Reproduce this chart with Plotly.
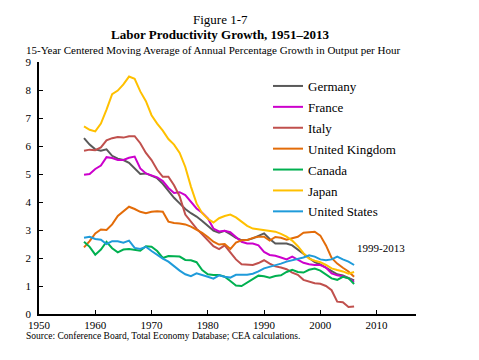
import plotly.graph_objects as go

years = list(range(1958, 2007))

germany = [6.28, 6.05, 5.88, 5.83, 5.88, 5.65, 5.55, 5.50, 5.40, 5.20, 5.00, 5.02, 4.92, 4.85, 4.65, 4.40, 4.15, 3.95, 3.75, 3.60,
           3.48, 3.32, 3.15, 2.98, 2.90, 2.97, 2.85, 2.72, 2.64, 2.64, 2.70, 2.80, 2.88, 2.68, 2.52, 2.52, 2.52, 2.45, 2.30, 2.12,
           1.98, 1.85, 1.77, 1.65, 1.52, 1.42, 1.38, 1.30, 1.20]
france = [4.97, 5.00, 5.18, 5.30, 5.60, 5.57, 5.50, 5.50, 5.58, 5.62, 5.20, 5.02, 4.95, 4.88, 4.75, 4.50, 4.32, 4.35, 4.25, 4.00,
          3.77, 3.62, 3.42, 3.05, 2.95, 2.97, 2.92, 2.75, 2.58, 2.52, 2.52, 2.45, 2.22, 2.11, 2.08, 2.02, 1.95, 2.05, 1.95, 1.83,
          1.78, 1.75, 1.75, 1.66, 1.45, 1.38, 1.35, 1.27, 1.15]
italy = [5.83, 5.87, 5.85, 5.95, 6.20, 6.28, 6.32, 6.30, 6.35, 6.35, 6.10, 5.75, 5.50, 5.15, 4.90, 4.90, 4.60, 4.20, 3.55, 3.30,
         3.05, 2.85, 2.62, 2.42, 2.32, 2.45, 2.20, 1.95, 1.78, 1.76, 1.75, 1.82, 1.92, 1.80, 1.70, 1.66, 1.60, 1.48, 1.40, 1.22,
         1.15, 1.10, 1.08, 1.00, 0.85, 0.44, 0.42, 0.25, 0.27]
uk = [2.38, 2.60, 2.88, 3.02, 3.00, 3.20, 3.50, 3.65, 3.83, 3.75, 3.65, 3.60, 3.65, 3.67, 3.65, 3.30, 3.25, 3.23, 3.20, 3.12,
      3.02, 2.90, 2.75, 2.58, 2.48, 2.50, 2.32, 2.55, 2.63, 2.64, 2.72, 2.76, 2.76, 2.62, 2.75, 2.72, 2.65, 2.70, 2.76, 2.90,
      2.93, 2.94, 2.80, 2.45, 2.00, 1.80, 1.65, 1.52, 1.33]
canada = [2.58, 2.40, 2.12, 2.30, 2.58, 2.35, 2.20, 2.30, 2.32, 2.30, 2.26, 2.42, 2.40, 2.25, 2.00, 2.07, 2.05, 2.05, 1.93, 1.92,
          1.85, 1.57, 1.42, 1.39, 1.39, 1.33, 1.18, 1.02, 1.00, 1.12, 1.27, 1.37, 1.35, 1.30, 1.36, 1.38, 1.50, 1.58, 1.50, 1.48,
          1.58, 1.62, 1.55, 1.40, 1.27, 1.22, 1.33, 1.28, 1.07]
japan = [6.70, 6.58, 6.52, 6.80, 7.30, 7.85, 7.98, 8.20, 8.48, 8.40, 7.95, 7.60, 7.10, 6.80, 6.55, 6.25, 6.05, 5.75, 5.25, 4.55,
         3.95, 3.60, 3.40, 3.27, 3.42, 3.50, 3.55, 3.45, 3.30, 3.15, 3.05, 3.02, 3.00, 2.97, 2.94, 2.86, 2.76, 2.62, 2.42, 2.17,
         1.98, 1.90, 1.85, 1.75, 1.63, 1.57, 1.52, 1.44, 1.50]
us = [2.72, 2.76, 2.68, 2.65, 2.50, 2.60, 2.60, 2.55, 2.62, 2.36, 2.32, 2.40, 2.25, 2.10, 1.98, 1.87, 1.70, 1.55, 1.42, 1.35,
      1.45, 1.40, 1.33, 1.26, 1.38, 1.33, 1.30, 1.40, 1.40, 1.40, 1.44, 1.52, 1.63, 1.68, 1.75, 1.80, 1.87, 1.92, 1.95, 2.02,
      2.10, 2.05, 1.95, 1.92, 1.95, 2.05, 1.95, 1.87, 1.75]

series_names = ["Germany", "France", "Italy", "United Kingdom", "Canada", "Japan", "United States"]
series_values = [germany, france, italy, uk, canada, japan, us]
colors = ["#595959", "#CC00CC", "#C0504D", "#E36C09", "#00B050", "#FFC000", "#1F9BDA"]

x_ticks = [1950, 1960, 1970, 1980, 1990, 2000, 2010]
y_ticks = list(range(0, 10))

FONT = "Liberation Serif, Times New Roman, serif"

# plot area in window pixels: x 39..416, y 62..314 (page body adds an 8px offset)
def px(xp):
    return (xp - 39) / 377.0

def py(yp):
    return (314 - yp) / 252.0

fig = go.Figure()
for name, vals, col in zip(series_names, series_values, colors):
    fig.add_trace(go.Scatter(x=years, y=vals, mode="lines", name=name, legendgroup=name,
                             line=dict(color=col, width=2)))

fig.update_layout(
    width=471, height=352,
    margin=dict(l=31, r=63, t=54, b=46, autoexpand=False),
    paper_bgcolor="white", plot_bgcolor="white",
    font=dict(family=FONT, size=11, color="black"),
    showlegend=True,
    legend=dict(x=px(268), y=py(71), xref="paper", yref="paper",
                xanchor="left", yanchor="top",
                font=dict(family=FONT, size=13, color="black"),
                bgcolor="rgba(0,0,0,0)", tracegroupgap=1, itemwidth=30),
    xaxis=dict(range=[1950, 2017], tickvals=x_ticks, ticks="inside", ticklen=4,
               tickcolor="black", showline=True, linecolor="black", linewidth=1.5,
               showgrid=False, zeroline=False, tickfont=dict(size=11)),
    yaxis=dict(range=[0, 9], tickvals=y_ticks, ticks="inside", ticklen=4,
               tickcolor="black", showline=True, linecolor="black", linewidth=1.5,
               showgrid=False, zeroline=False, tickfont=dict(size=11),
               ticklabelstandoff=4),
    annotations=[
        dict(text="Figure 1-7", xref="paper", yref="paper", x=px(220), y=py(20),
             showarrow=False, font=dict(size=13), xanchor="center", yanchor="middle"),
        dict(text="<b>Labor Productivity Growth, 1951–2013</b>", xref="paper", yref="paper",
             x=px(220), y=py(35), showarrow=False, font=dict(size=13),
             xanchor="center", yanchor="middle"),
        dict(text="15-Year Centered Moving Average of Annual Percentage Growth in Output per Hour",
             xref="paper", yref="paper", x=px(24), y=py(50), showarrow=False,
             font=dict(size=11), xanchor="left", yanchor="middle"),
        dict(text="Source: Conference Board, Total Economy Database; CEA calculations.",
             xref="paper", yref="paper", x=px(24), y=py(336), showarrow=False,
             font=dict(size=9.5), xanchor="left", yanchor="middle"),
        dict(text="1999-2013", xref="x", yref="y", x=2010.8, y=2.36, showarrow=False,
             font=dict(size=11), xanchor="center", yanchor="middle"),
    ],
)

fig.write_html("out.html")
